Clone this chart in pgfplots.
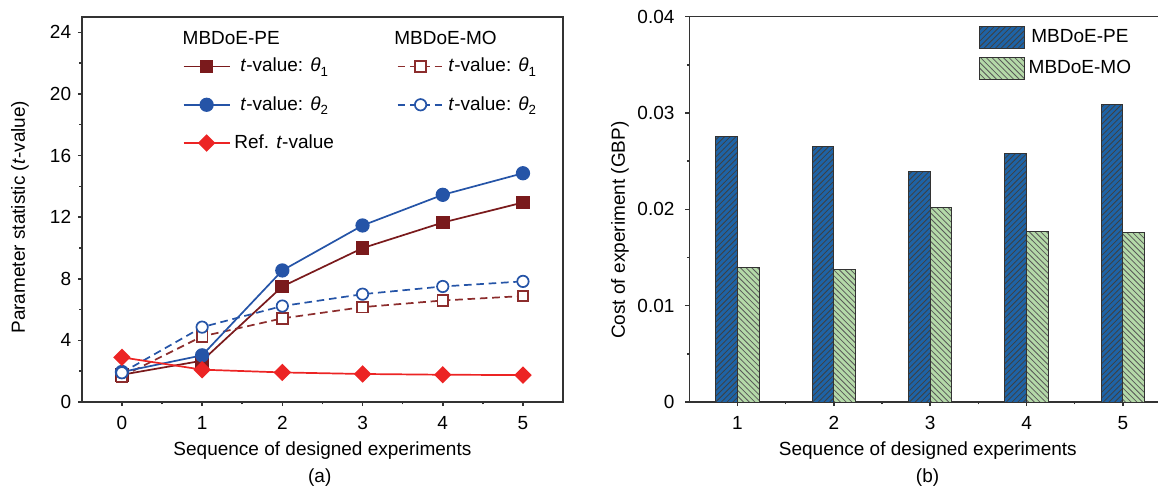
\documentclass[border=0pt]{standalone}
\usepackage{fontspec}
\setmainfont{Liberation Sans}
\setsansfont{Liberation Sans}
\usepackage{pgfplots}
\pgfplotsset{compat=1.18}
\usetikzlibrary{patterns}

\definecolor{axisgray}{RGB}{51,51,51}
\definecolor{pered}{RGB}{122,26,28}
\definecolor{mored}{RGB}{140,45,45}
\definecolor{peblue}{RGB}{37,84,167}
\definecolor{refred}{RGB}{236,36,36}
\definecolor{barblue}{RGB}{30,99,166}
\definecolor{bargreen}{RGB}{180,217,168}

\newcommand{\sub}[1]{\raisebox{-0.45ex}{\fontsize{7}{8}\selectfont #1}}

\pgfplotsset{
  barleg/.style={legend image code/.code={\draw[##1] (0pt,-5.7pt) rectangle (23.5pt,5.7pt);}},
  lineleg/.style={legend image code/.code={\draw[mark repeat=2,mark phase=2,##1] plot coordinates {(0pt,0pt) (12.15pt,0pt) (24.3pt,0pt)};}},
  common/.style={
    scale only axis,
    anchor=south west,
    tick align=outside,
    major tick length=2.1pt,
    minor tick length=1.3pt,
    axis line style={draw=axisgray, line width=0.8pt},
    every tick/.style={draw=axisgray, line width=0.8pt},
    tick label style={font=\fontsize{10}{12}\selectfont},
    label style={font=\fontsize{10}{12}\selectfont},
    /pgf/number format/assume math mode=true,
    xticklabel style={yshift=-2pt},
  },
}

\begin{document}
\begin{tikzpicture}
\useasboundingbox (0,0) rectangle (609.47pt,255.26pt);

% (a) t-values
\begin{axis}[common,
  name=left,
  at={(43.05pt,43.68pt)},
  width=253.3pt, height=202.7pt,
  xmin=-0.5, xmax=5.5, ymin=0, ymax=25,
  xtick={0,1,2,3,4,5},
  ytick={0,4,8,12,16,20,24},
  minor x tick num=1, minor y tick num=1,
  tick pos=left,
  clip=false,
  xlabel={Sequence of designed experiments},
  ylabel={Parameter statistic (\textit{t}-value)},
  xlabel style={at={(axis description cs:0.5,0)}, anchor=center, yshift=-25.5pt},
  ylabel style={at={(axis description cs:-0.1287,0.48)}, anchor=center},
  every axis plot/.append style={lineleg, line width=0.9pt},
  legend columns=2,
  legend style={draw=none, fill=none, inner sep=0pt,
    at={(0.2089,0.9036)}, anchor=north west,
    font=\fontsize{10}{12}\selectfont,
    row sep=7.4pt,
    /tikz/every even column/.append style={column sep=31pt}},
]
\addplot[pered, mark=square*, mark size=3.15pt, mark options={solid}]
  coordinates {(0,1.77) (1,2.68) (2,7.50) (3,9.99) (4,11.65) (5,12.95)};
\addlegendentry{\textit{t}-value: \textit{θ}\sub{1}}
\addplot[mored, dash pattern=on 4pt off 2.5pt, mark=square*, mark size=2.8pt,
  mark options={solid, fill=white, draw=mored}]
  coordinates {(0,1.66) (1,4.26) (2,5.43) (3,6.16) (4,6.59) (5,6.88)};
\addlegendentry{\textit{t}-value: \textit{θ}\sub{1}}
\addplot[peblue, mark=*, mark size=3.3pt, mark options={solid}]
  coordinates {(0,1.95) (1,3.03) (2,8.54) (3,11.46) (4,13.45) (5,14.85)};
\addlegendentry{\textit{t}-value: \textit{θ}\sub{2}}
\addplot[peblue, dash pattern=on 4pt off 2.5pt, mark=*, mark size=3pt,
  mark options={solid, fill=white, draw=peblue}]
  coordinates {(0,1.90) (1,4.86) (2,6.23) (3,7.00) (4,7.50) (5,7.83)};
\addlegendentry{\textit{t}-value: \textit{θ}\sub{2}}
\addplot[refred, mark=square*, mark size=2.8pt, mark options={solid, rotate=45}]
  coordinates {(0,2.90) (1,2.10) (2,1.92) (3,1.82) (4,1.77) (5,1.75)};
\addlegendentry{Ref. \textit{t}-value}
\node[anchor=west, inner sep=0pt, font=\fontsize{10}{12}\selectfont] at (axis cs:0.753,23.62) {MBDoE-PE};
\node[anchor=west, inner sep=0pt, font=\fontsize{10}{12}\selectfont] at (axis cs:3.392,23.62) {MBDoE-MO};
\end{axis}

% (b) cost
\begin{axis}[common,
  name=right,
  at={(362.8pt,43.68pt)},
  width=246.6pt, height=202.8pt,
  xmin=0.5, xmax=5.363, ymin=0, ymax=0.04,
  separate axis lines,
  axis x line*=box, axis y line*=left,
  xtick pos=left, ytick pos=left,
  xtick={1,2,3,4,5},
  ytick={0,0.01,0.02,0.03,0.04},
  yticklabels={0,0.01,0.02,0.03,0.04},
  scaled y ticks=false,
  yticklabel style={xshift=-2.2pt},
  minor x tick num=1, minor y tick num=1,
  xlabel={Sequence of designed experiments},
  ylabel={Cost of experiment (GBP)},
  xlabel style={at={(axis description cs:0.509,0)}, anchor=center, yshift=-25.5pt},
  ylabel style={at={(axis description cs:-0.148,0.446)}, anchor=center},
  legend style={draw=none, fill=none, inner sep=0pt,
    at={(0.618,0.978)}, anchor=north west,
    font=\fontsize{10}{12}\selectfont,
    row sep=4pt},
]
\addplot[ybar, bar width=0.225, bar shift=-0.1125, fill=barblue, draw=axisgray, line width=0.5pt,
  postaction={pattern=north east lines, pattern color=black!75}, barleg]
  coordinates {(1,0.0276) (2,0.0265) (3,0.0239) (4,0.0258) (5,0.0309)};
\addlegendentry{MBDoE-PE}
\addplot[ybar, bar width=0.225, bar shift=0.1125, fill=bargreen, draw=axisgray, line width=0.5pt,
  postaction={pattern=north west lines, pattern color=black!65}, barleg]
  coordinates {(1,0.0140) (2,0.0138) (3,0.0202) (4,0.0177) (5,0.0176)};
\addlegendentry{MBDoE-MO}
\end{axis}

\node[font=\fontsize{10}{12}\selectfont] at (168.3pt,3.9pt) {(a)};
\node[font=\fontsize{10}{12}\selectfont] at (488.2pt,3.9pt) {(b)};
\end{tikzpicture}
\end{document}
